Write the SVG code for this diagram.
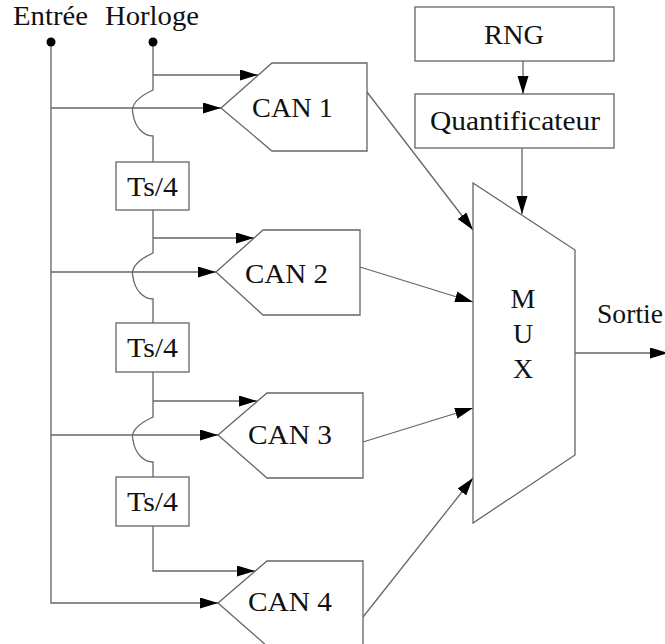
<svg xmlns="http://www.w3.org/2000/svg" width="665" height="644" viewBox="0 0 665 644">
<defs>
<marker id="ah" markerUnits="userSpaceOnUse" markerWidth="20" markerHeight="12" refX="18" refY="5.5" orient="auto">
<path d="M0,0 L18,5.5 L0,11 z" fill="#000"/>
</marker>
<style>
.s{fill:#fff;stroke:#666;stroke-width:1.3}
.c{fill:none;stroke:#666;stroke-width:1.3}
.a{marker-end:url(#ah)}
text{font-family:"Liberation Serif","Times New Roman",serif;font-size:28px;fill:#111}
</style>
</defs>
<rect width="665" height="644" fill="#fff"/>
<g id="connectors">
<path class="c a" d="M51,42 V603 H218"/>
<path class="c a" d="M51,108 H221"/>
<path class="c a" d="M51,272 H216"/>
<path class="c a" d="M51,435 H218"/>
<path class="c" d="M153,42 V90 C140,96 130,104 133,114 C135,128 144,136 153,136 V162"/>
<path class="c a" d="M153,75 H258"/>
<path class="c" d="M153,210 V253 C140,259 130,267 133,277 C135,291 144,299 153,299 V323"/>
<path class="c a" d="M153,238 H254"/>
<path class="c" d="M153,372 V417 C140,423 130,431 133,440 C135,454 144,462 153,462 V477"/>
<path class="c a" d="M153,401 H257"/>
<path class="c a" d="M153,526 V571 H255"/>
<path class="c a" d="M367,92 L473,230"/>
<path class="c a" d="M360,267 L473,302"/>
<path class="c a" d="M363,442 L473,408"/>
<path class="c a" d="M363,617 L473,478"/>
<path class="c a" d="M523,61 V94"/>
<path class="c a" d="M522,148 V214"/>
<path class="c a" d="M575,353 H668"/>
<circle cx="51" cy="42" r="4.5" fill="#000"/>
<circle cx="153" cy="42" r="4.5" fill="#000"/>
</g>
<g id="label-entree"><text x="13" y="25" textLength="75" lengthAdjust="spacingAndGlyphs">Entrée</text></g>
<g id="label-horloge"><text x="105" y="25" textLength="94" lengthAdjust="spacingAndGlyphs">Horloge</text></g>
<g id="can1"><polygon class="s" points="221,108 272,63 367,63 367,151 272,151"/><text x="252" y="117" textLength="81" lengthAdjust="spacingAndGlyphs">CAN 1</text></g>
<g id="can2"><polygon class="s" points="216,272 263,230 360,230 360,315 263,315"/><text x="245" y="283" textLength="83" lengthAdjust="spacingAndGlyphs">CAN 2</text></g>
<g id="can3"><polygon class="s" points="218,435 267,393 363,393 363,478 267,478"/><text x="248" y="444" textLength="84" lengthAdjust="spacingAndGlyphs">CAN 3</text></g>
<g id="can4"><polygon class="s" points="218,603 267,561 363,561 363,646 267,646"/><text x="248" y="611" textLength="84" lengthAdjust="spacingAndGlyphs">CAN 4</text></g>
<g id="delay1"><rect class="s" x="116" y="162" width="73" height="48"/><text x="127" y="196" textLength="51" lengthAdjust="spacingAndGlyphs">Ts/4</text></g>
<g id="delay2"><rect class="s" x="116" y="323" width="73" height="49"/><text x="127" y="357" textLength="51" lengthAdjust="spacingAndGlyphs">Ts/4</text></g>
<g id="delay3"><rect class="s" x="116" y="477" width="73" height="49"/><text x="127" y="511" textLength="51" lengthAdjust="spacingAndGlyphs">Ts/4</text></g>
<g id="rng"><rect class="s" x="415" y="7" width="199" height="54"/><text x="484" y="44" textLength="60" lengthAdjust="spacingAndGlyphs">RNG</text></g>
<g id="quantificateur"><rect class="s" x="415" y="94" width="199" height="54"/><text x="430" y="130" textLength="170" lengthAdjust="spacingAndGlyphs">Quantificateur</text></g>
<g id="mux"><polygon class="s" points="473,183 575,250 575,455 473,523"/>
<text x="523" y="308" text-anchor="middle">M</text>
<text x="523" y="343" text-anchor="middle">U</text>
<text x="523" y="378" text-anchor="middle">X</text></g>
<g id="label-sortie"><text x="597" y="323" textLength="66" lengthAdjust="spacingAndGlyphs">Sortie</text></g>
</svg>
